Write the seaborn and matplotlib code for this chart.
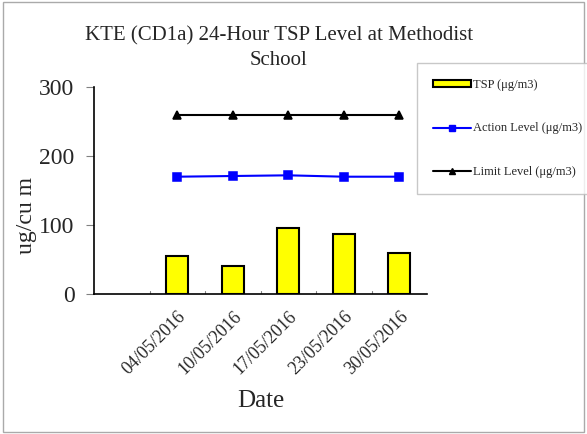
import pandas as pd
import numpy as np
import seaborn as sns
import matplotlib.pyplot as plt
from matplotlib.patches import Patch, Rectangle
from matplotlib.lines import Line2D

# chart values
dates = ["", "04/05/2016", "10/05/2016", "17/05/2016", "23/05/2016", "30/05/2016"]
tsp = [np.nan, 55, 41, 95, 87, 60]
action_level = [np.nan, 170, 171, 172, 170, 170]
limit_level = [np.nan, 260, 260, 260, 260, 260]

df = pd.DataFrame({"Date": dates, "TSP": tsp, "Action": action_level, "Limit": limit_level})

sns.set_style("white")
plt.rcParams["font.family"] = ["Liberation Serif", "DejaVu Serif"]

fig = plt.figure(figsize=(5.87, 4.34), dpi=100)
ax = fig.add_axes([94 / 587, 1 - 294 / 434, (427 - 94) / 587, (294 - 87) / 434])

sns.barplot(data=df, x="Date", y="TSP", order=dates, color="#ffff00", saturation=1,
            edgecolor="black", linewidth=1.5, width=0.4, ax=ax)
sns.pointplot(data=df, x="Date", y="Action", order=dates, color="#0000ff",
              markers="s", markersize=6, linewidth=1.5, ax=ax)
sns.pointplot(data=df, x="Date", y="Limit", order=dates, color="black",
              markers="^", markersize=6, linewidth=1.5, ax=ax)

ax.set_ylim(0, 300)
ax.set_xlim(-0.5, 5.5)
ax.set_yticks([0, 100, 200, 300])
ax.set_yticklabels(["0", "100", "200", "300"], fontsize=17)
ax.set_xticks(range(len(dates)))
ax.set_xticklabels(dates, rotation=45, ha="right", rotation_mode="anchor", fontsize=13)
ax.tick_params(axis="x", length=0, pad=10)
ax.tick_params(axis="y", direction="out", length=6, color="gray", left=True, pad=8)
for b in np.arange(0.5, 5.6, 1):
    ax.plot([b, b], [0, 4], color="gray", lw=0.8)

for s in ["top", "right"]:
    ax.spines[s].set_visible(False)
for s in ["left", "bottom"]:
    ax.spines[s].set_color("black")
    ax.spines[s].set_linewidth(1.2)

ax.set_xlabel("Date", fontsize=18, labelpad=9)
ax.set_ylabel("ug/cu m", fontsize=17)
ax.yaxis.set_label_coords(-0.172, 0.38)

fig.text(0.475, 0.89, "KTE (CD1a) 24-Hour TSP Level at Methodist\nSchool",
         ha="center", va="center", fontsize=15, linespacing=1.4)

handles = [
    Patch(facecolor="#ffff00", edgecolor="black", linewidth=1.5),
    Line2D([], [], color="#0000ff", marker="s", markersize=5, lw=1.5),
    Line2D([], [], color="black", marker="^", markersize=5, lw=1.5),
]
labels = ["TSP (μg/m3)", "Action Level (μg/m3)", "Limit Level (μg/m3)"]
leg = fig.legend(handles, labels, loc="upper left", bbox_to_anchor=(417 / 587, 1 - 63 / 434),
                 fontsize=9, frameon=True, fancybox=False, edgecolor="#bbbbbb",
                 handlelength=3, handleheight=0.5, labelspacing=2.5,
                 borderpad=1.3, handletextpad=0.2, borderaxespad=0)
leg.get_frame().set_linewidth(1)

# outer border of the chart area
fig.patches.append(Rectangle((0.005, 0.005), 0.99, 0.99, transform=fig.transFigure,
                             fill=False, edgecolor="#aaaaaa", lw=1))

fig.savefig("out.png", dpi=100)
